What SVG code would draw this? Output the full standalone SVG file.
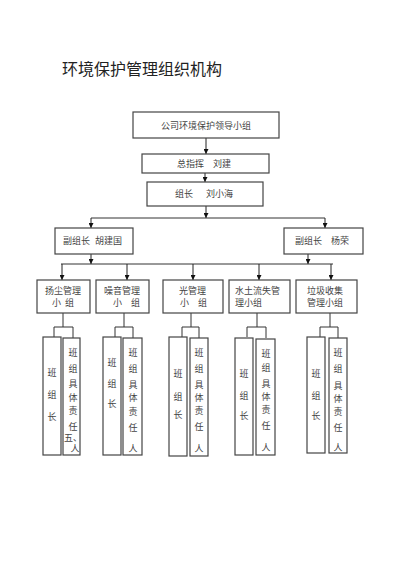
<svg xmlns="http://www.w3.org/2000/svg" width="400" height="566" viewBox="0 0 400 566">
<defs>
<marker id="ah" viewBox="0 0 6 6" refX="6" refY="3" markerWidth="5" markerHeight="5" markerUnits="userSpaceOnUse" orient="auto"><path d="M0,0L6,3L0,6z" fill="#111"/></marker>
</defs>
<style>
.b{fill:#fff;stroke:#444;stroke-width:1.2}
.c{fill:none;stroke:#333;stroke-width:1}
.a{fill:none;stroke:#222;stroke-width:1;marker-end:url(#ah)}
text{font-family:"Liberation Serif","Noto Sans CJK SC",serif;font-size:9px;fill:#444}
.m{text-anchor:middle}
.t{font-size:16px;fill:#222}
</style>
<rect width="400" height="566" fill="#fff"/>
<text class="t" x="62" y="75">环境保护管理组织机构</text>
<g id="connectors">
<line class="a" x1="206" y1="138" x2="206" y2="154"/>
<line class="a" x1="205" y1="173" x2="205" y2="182"/>
<line class="a" x1="206" y1="206" x2="206" y2="218"/>
<line class="c" x1="91" y1="218" x2="325" y2="218"/>
<line class="a" x1="91" y1="218" x2="91" y2="228"/>
<line class="a" x1="325" y1="218" x2="325" y2="228"/>
<line class="a" x1="91" y1="254" x2="91" y2="264"/>
<line class="a" x1="308" y1="254" x2="308" y2="264"/>
<line class="c" x1="61" y1="264" x2="333" y2="264"/>
<line class="a" x1="62" y1="264" x2="62" y2="280"/>
<line class="a" x1="127" y1="264" x2="127" y2="280"/>
<line class="a" x1="193" y1="264" x2="193" y2="280"/>
<line class="a" x1="259" y1="264" x2="259" y2="280"/>
<line class="a" x1="331" y1="264" x2="331" y2="280"/>
<path class="c" d="M63,313V327M54,337V327H73V338"/>
<path class="c" d="M124,313V327M115,337V327H133V338"/>
<path class="c" d="M191,313V327M182,337V327H199V338"/>
<path class="c" d="M257,313V327M247,337V327H266V338"/>
<path class="c" d="M330,313V327M320,337V327H338V338"/>
</g>
<g id="n-top"><rect class="b" x="133" y="112" width="146" height="26"/><text class="m" x="206" y="128.5">公司环境保护领导小组</text></g>
<g id="n-zhihui"><rect class="b" x="142" y="154" width="127" height="19"/><text x="177" y="167">总指挥</text><text x="213" y="167">刘建</text></g>
<g id="n-zuzhang"><rect class="b" x="147" y="182" width="116" height="24"/><text x="175" y="197">组长</text><text x="206" y="197">刘小海</text></g>
<g id="n-fu1"><rect class="b" x="55" y="228" width="78" height="26"/><text x="63" y="243.5">副组长</text><text x="95" y="243.5">胡建国</text></g>
<g id="n-fu2"><rect class="b" x="284" y="228" width="79" height="26"/><text x="295" y="243.5">副组长</text><text x="331" y="243.5">杨荣</text></g>
<g id="n-g1"><rect class="b" x="37" y="280" width="53" height="33"/><text x="45" y="294">扬尘管理</text><text x="52" y="306">小</text><text x="65" y="306">组</text></g>
<g id="n-g2"><rect class="b" x="96" y="280" width="53" height="33"/><text x="104" y="294">噪音管理</text><text x="113" y="306">小</text><text x="131" y="306">组</text></g>
<g id="n-g3"><rect class="b" x="163" y="280" width="60" height="33"/><text x="179" y="294">光管理</text><text x="180" y="306">小</text><text x="198" y="306">组</text></g>
<g id="n-g4"><rect class="b" x="229" y="280" width="61" height="33"/><text x="235" y="294">水土流失管</text><text x="235" y="306">理小组</text></g>
<g id="n-g5"><rect class="b" x="296" y="280" width="61" height="33"/><text x="307" y="294">垃圾收集</text><text x="307" y="306">管理小组</text></g>
<g id="n-g1a"><rect class="b" x="43" y="337" width="18" height="118"/><text class="m" x="52" y="375.5">班</text><text class="m" x="52" y="397.5">组</text><text class="m" x="52" y="419.5">长</text></g>
<g id="n-g1b"><rect class="b" x="63" y="338" width="17" height="117"/><text class="m" x="73" y="355.5">班</text><text class="m" x="73" y="371.5">组</text><text class="m" x="73" y="386.5">具</text><text class="m" x="73" y="400.5">体</text><text class="m" x="73" y="413.5">责</text><text class="m" x="73" y="429.5">任</text><text x="64" y="440.5">五、</text><text class="m" x="75" y="452">人</text></g>
<g id="n-g2a"><rect class="b" x="103" y="337" width="18" height="118"/><text class="m" x="112" y="365.5">班</text><text class="m" x="112" y="386.5">组</text><text class="m" x="112" y="406.5">长</text></g>
<g id="n-g2b"><rect class="b" x="123" y="338" width="19" height="117"/><text class="m" x="133" y="355.5">班</text><text class="m" x="133" y="371.5">组</text><text class="m" x="133" y="387.5">具</text><text class="m" x="133" y="400.5">体</text><text class="m" x="133" y="414.5">责</text><text class="m" x="133" y="430.5">任</text><text class="m" x="133" y="451.5">人</text></g>
<g id="n-g3a"><rect class="b" x="169" y="337" width="18" height="119"/><text class="m" x="178" y="376.5">班</text><text class="m" x="178" y="399.5">组</text><text class="m" x="178" y="417.5">长</text></g>
<g id="n-g3b"><rect class="b" x="190" y="338" width="18" height="118"/><text class="m" x="199" y="355.5">班</text><text class="m" x="199" y="371.5">组</text><text class="m" x="199" y="387.5">具</text><text class="m" x="199" y="400.5">体</text><text class="m" x="199" y="413.5">责</text><text class="m" x="199" y="429.5">任</text><text class="m" x="199" y="451.5">人</text></g>
<g id="n-g4a"><rect class="b" x="235" y="338" width="18" height="117"/><text class="m" x="244" y="376.5">班</text><text class="m" x="244" y="398.5">组</text><text class="m" x="244" y="418.5">长</text></g>
<g id="n-g4b"><rect class="b" x="256" y="339" width="19" height="116"/><text class="m" x="266" y="356.5">班</text><text class="m" x="266" y="370.5">组</text><text class="m" x="266" y="386.5">具</text><text class="m" x="266" y="399.5">体</text><text class="m" x="266" y="412.5">责</text><text class="m" x="266" y="428.5">任</text><text class="m" x="266" y="450.5">人</text></g>
<g id="n-g5a"><rect class="b" x="307" y="337" width="18" height="116"/><text class="m" x="316" y="376.5">班</text><text class="m" x="316" y="398.5">组</text><text class="m" x="316" y="418.5">长</text></g>
<g id="n-g5b"><rect class="b" x="329" y="338" width="18" height="115"/><text class="m" x="338" y="355.5">班</text><text class="m" x="338" y="371.5">组</text><text class="m" x="338" y="388.5">具</text><text class="m" x="338" y="401.5">体</text><text class="m" x="338" y="414.5">责</text><text class="m" x="338" y="430.5">任</text><text class="m" x="338" y="451">人</text></g>
</svg>
